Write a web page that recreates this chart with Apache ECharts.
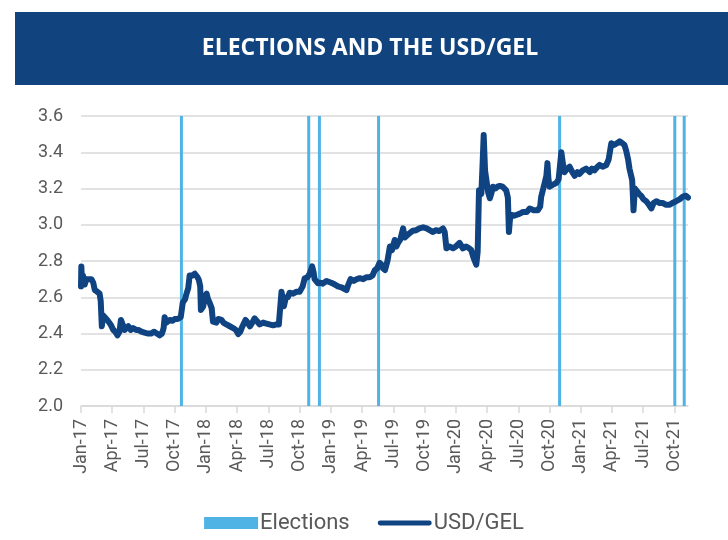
<!DOCTYPE html>
<html>
<head>
<meta charset="utf-8">
<script src="https://cdn.jsdelivr.net/npm/echarts@6/dist/echarts.min.js"></script>
<style>
html,body{margin:0;padding:0;background:#fff;}
#chart{width:728px;height:540px;}
</style>
</head>
<body>
<div id="chart"></div>
<script>
const fxDates = [
'2017-01-01','2017-01-02','2017-01-04','2017-01-07','2017-01-12','2017-01-17','2017-01-22','2017-02-01','2017-02-06','2017-02-10','2017-02-17','2017-02-23','2017-02-26','2017-03-01','2017-03-05','2017-03-10','2017-03-19','2017-03-27',
'2017-04-04','2017-04-10','2017-04-16','2017-04-22','2017-04-26','2017-05-01','2017-05-07','2017-05-18','2017-05-25','2017-06-01','2017-06-10','2017-06-16','2017-06-25',
'2017-07-04','2017-07-13','2017-07-24','2017-08-01','2017-08-10','2017-08-18','2017-08-25','2017-08-30','2017-09-02','2017-09-07','2017-09-17','2017-09-25',
'2017-10-01','2017-10-10','2017-10-19','2017-10-25','2017-11-01','2017-11-05','2017-11-10','2017-11-14','2017-11-22','2017-11-29','2017-12-07','2017-12-11','2017-12-15','2017-12-17','2017-12-24','2017-12-28',
'2018-01-03','2018-01-07','2018-01-12','2018-01-18','2018-01-22','2018-02-01','2018-02-06','2018-02-15','2018-02-20','2018-02-28','2018-03-10','2018-03-20','2018-03-28',
'2018-04-04','2018-04-10','2018-04-14','2018-04-25','2018-05-01','2018-05-08','2018-05-15','2018-05-22','2018-05-28','2018-06-06','2018-06-16','2018-06-25',
'2018-07-04','2018-07-15','2018-07-25','2018-08-01','2018-08-05','2018-08-09','2018-08-13','2018-08-16','2018-08-22','2018-08-28','2018-09-02','2018-09-12','2018-09-21',
'2018-10-01','2018-10-10','2018-10-16','2018-10-24','2018-10-31','2018-11-07','2018-11-11','2018-11-14','2018-11-18','2018-11-24','2018-12-01','2018-12-08','2018-12-19',
'2019-01-02','2019-01-13','2019-01-22','2019-02-01','2019-02-06','2019-02-15','2019-02-20','2019-02-26','2019-03-07','2019-03-16','2019-03-25',
'2019-04-04','2019-04-13','2019-04-23','2019-05-01','2019-05-08','2019-05-15','2019-05-22','2019-05-28','2019-06-01','2019-06-07','2019-06-09','2019-06-14','2019-06-21','2019-06-27',
'2019-07-05','2019-07-10','2019-07-15','2019-07-22','2019-07-30','2019-08-04','2019-08-09','2019-08-16','2019-08-28','2019-09-07','2019-09-16','2019-09-27',
'2019-10-07','2019-10-16','2019-10-26','2019-11-04','2019-11-13','2019-11-24','2019-11-29','2019-12-04','2019-12-13','2019-12-24',
'2020-01-01','2020-01-12','2020-01-22','2020-02-01','2020-02-09','2020-02-15','2020-02-21','2020-02-29','2020-03-04','2020-03-08','2020-03-15','2020-03-19','2020-03-22','2020-03-26','2020-03-30',
'2020-04-04','2020-04-09','2020-04-13','2020-04-18','2020-04-25','2020-05-01','2020-05-08','2020-05-16','2020-05-27','2020-06-01','2020-06-04','2020-06-07','2020-06-11','2020-06-19','2020-06-25',
'2020-07-04','2020-07-15','2020-07-26','2020-08-04','2020-08-16','2020-08-28','2020-09-04','2020-09-07','2020-09-13','2020-09-17','2020-09-22','2020-09-25','2020-09-28',
'2020-10-01','2020-10-10','2020-10-21','2020-10-28','2020-10-31','2020-11-05','2020-11-10','2020-11-14','2020-11-22','2020-11-29','2020-12-07','2020-12-14','2020-12-22','2020-12-28',
'2021-01-07','2021-01-17','2021-01-28','2021-02-03','2021-02-10','2021-02-18','2021-02-24','2021-03-04','2021-03-15','2021-03-22','2021-03-30',
'2021-04-07','2021-04-16','2021-04-23','2021-05-01','2021-05-07','2021-05-12','2021-05-18','2021-05-22','2021-05-30','2021-06-01','2021-06-03','2021-06-07','2021-06-11','2021-06-19','2021-06-25',
'2021-07-02','2021-07-10','2021-07-18','2021-07-25','2021-08-01','2021-08-09','2021-08-19','2021-08-28','2021-09-07','2021-09-17','2021-09-25',
'2021-10-06','2021-10-16','2021-10-26','2021-11-04','2021-11-10'
];
const fxValues = [
2.66,2.77,2.68,2.72,2.67,2.70,2.71,2.70,2.68,2.64,2.63,2.62,2.58,2.44,2.50,2.51,2.47,2.45,
2.42,2.41,2.39,2.41,2.475,2.45,2.42,2.44,2.42,2.43,2.42,2.42,2.41,
2.405,2.40,2.40,2.41,2.40,2.39,2.40,2.43,2.49,2.46,2.475,2.47,
2.48,2.48,2.49,2.57,2.59,2.62,2.65,2.72,2.72,2.73,2.71,2.695,2.66,2.53,2.55,2.60,
2.62,2.59,2.57,2.54,2.465,2.46,2.48,2.475,2.46,2.45,2.44,2.43,2.42,
2.397,2.41,2.43,2.475,2.46,2.44,2.46,2.484,2.47,2.45,2.46,2.455,
2.45,2.445,2.45,2.45,2.46,2.63,2.64,2.55,2.60,2.60,2.625,2.62,2.63,
2.63,2.66,2.705,2.71,2.73,2.77,2.74,2.70,2.69,2.677,2.68,2.675,2.69,
2.68,2.67,2.66,2.655,2.65,2.64,2.67,2.70,2.69,2.70,2.705,
2.70,2.71,2.71,2.72,2.75,2.76,2.79,2.78,2.76,2.75,2.74,2.80,2.88,2.86,
2.916,2.88,2.90,2.92,2.98,2.93,2.93,2.95,2.967,2.97,2.98,2.986,
2.98,2.97,2.96,2.97,2.965,2.98,2.96,2.87,2.88,2.87,
2.88,2.90,2.87,2.88,2.87,2.86,2.82,2.78,2.85,3.19,3.17,3.35,3.495,3.30,3.247,
3.18,3.146,3.17,3.21,3.20,3.21,3.214,3.21,3.19,3.15,2.96,3.03,3.054,3.05,3.054,
3.06,3.07,3.07,3.09,3.08,3.08,3.10,3.155,3.20,3.23,3.27,3.34,3.25,
3.21,3.22,3.23,3.25,3.26,3.40,3.33,3.29,3.31,3.32,3.29,3.27,3.29,3.28,
3.30,3.31,3.29,3.31,3.30,3.32,3.33,3.32,3.33,3.36,3.45,
3.44,3.45,3.46,3.45,3.44,3.41,3.36,3.31,3.247,3.17,3.08,3.20,3.19,3.17,3.16,
3.14,3.13,3.11,3.09,3.12,3.13,3.12,3.12,3.11,3.11,3.12,
3.13,3.14,3.155,3.16,3.15
];
const electionDates = ['2017-10-21','2018-10-28','2018-11-28','2019-05-19','2020-10-31','2021-10-02','2021-10-30'];
const tickLabels = ['Jan-17','Apr-17','Jul-17','Oct-17','Jan-18','Apr-18','Jul-18','Oct-18','Jan-19','Apr-19','Jul-19','Oct-19','Jan-20','Apr-20','Jul-20','Oct-20','Jan-21','Apr-21','Jul-21','Oct-21'];
const yTicks = [2.0,2.2,2.4,2.6,2.8,3.0,3.2,3.4,3.6];

function toM(s){
  const p = s.split('-').map(Number);
  const dim = new Date(p[0], p[1], 0).getDate();
  return (p[0]-2017)*12 + (p[1]-1) + (p[2]-1)/dim;
}
const tickPos = tickLabels.map((_, i) => i*3);
const lineData = fxDates.map((d, i) => [toM(d), fxValues[i]]);
const elecData = electionDates.map(d => [toM(d), 1]);

const FONT = 'Roboto';
const GREY = '#595959';
const NAVY = '#0f4381';
const chart = echarts.init(document.getElementById('chart'), null, {renderer:'canvas'});
chart.setOption({
  animation: false,
  backgroundColor: '#ffffff',
  graphic: [
    {type:'rect', shape:{x:15, y:12, width:713, height:73}, style:{fill:'#11437e'}, z:0},
    {type:'text', x:370, y:48, style:{text:'ELECTIONS AND THE USD/GEL', fill:'#ffffff', font:'bold 23px "Open Sans"', align:'center', verticalAlign:'middle'}, z:1}
  ],
  grid: {left:81, right:40, top:116, bottom:134, containLabel:false},
  legend: {
    bottom: 1, left: 'center',
    itemWidth: 54, itemHeight: 12, itemGap: 28,
    textStyle: {fontFamily: FONT, fontSize: 22, color: GREY, padding:[0,0,0,-3]},
    data: [
      {name:'Elections', icon:'rect'},
      {name:'USD/GEL', icon:'path://M2.5,0 L53.5,0 A2.5,2.5 0 0 1 53.5,5 L2.5,5 A2.5,2.5 0 0 1 2.5,0 Z', itemStyle:{color:NAVY}}
    ]
  },
  xAxis: {
    type: 'value', min: 0, max: 58.3, interval: 3,
    axisLine: {show:true, lineStyle:{color:'#d9d9d9', width:1.5}},
    axisTick: {show:true, length:7, customValues: tickPos, lineStyle:{color:'#d9d9d9', width:1.5}},
    splitLine: {show:false},
    axisLabel: {
      customValues: tickPos,
      rotate: 90, margin: 13,
      fontFamily: FONT, fontSize: 18, color: GREY,
      formatter: v => { const i = Math.round(v/3); return (Math.abs(v - i*3) < 1e-6 && tickLabels[i]) ? tickLabels[i] : ''; }
    }
  },
  yAxis: [
    {
      type: 'value', min: 2.0, max: 3.6, interval: 0.2,
      axisLine: {show:false}, axisTick: {show:false},
      splitLine: {show:true, lineStyle:{color:'#d9d9d9', width:1.5}},
      axisLabel: {margin: 18, fontFamily: FONT, fontSize: 18, color: GREY, formatter: v => v.toFixed(1)}
    },
    {type:'value', min:0, max:1, show:false, splitLine:{show:false}}
  ],
  series: [
    {
      name: 'Elections', type: 'bar', yAxisIndex: 1, data: elecData,
      barWidth: 3, itemStyle: {color: '#4fb3e6'}, z: 1, silent: true
    },
    {
      name: 'USD/GEL', type: 'line', data: lineData, symbol: 'none', showSymbol: false,
      lineStyle: {color: NAVY, width: 6, cap: 'round', join: 'round'},
      itemStyle: {color: NAVY}, z: 3
    }
  ]
});
</script>
</body>
</html>
